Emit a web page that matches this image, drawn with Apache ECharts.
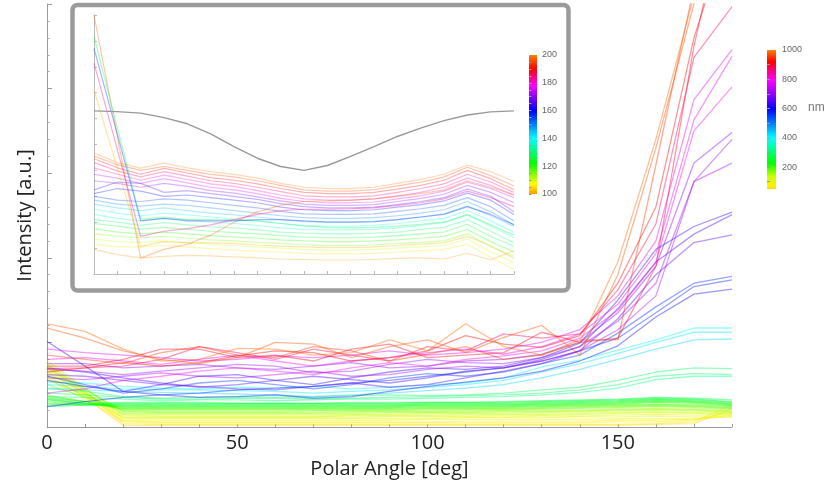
<!DOCTYPE html>
<html><head><meta charset="utf-8">
<script src="https://cdn.jsdelivr.net/npm/echarts@6/dist/echarts.min.js"></script>
<style>html,body{margin:0;padding:0;background:#fff}#c{width:824px;height:491px}</style>
</head><body><div id="c"></div>
<script>
// ---------- data ----------
const angles = [0,10,20,30,40,50,60,70,80,90,100,110,120,130,140,150,160,170,180];
const xTickLabels = [0,50,100,150];
const cbMainLabels = [200,400,600,800,1000];
const cbMainTicks = [100,200,300,400,500,600,700,800,900,1000];
const cbInsetLabels = [100,120,140,160,180,200];
const cbInsetTicks = [100,105,110,115,120,125,130,135,140,145,150,155,160,165,170,175,180,185,190,195,200];

// main chart: low (yellow-green) group, wavelength in nm
const lowWl = [50,60,70,80,90,100,110,120,130,140,150,160,170,180,190,200,210,220,230,240,250,260,270];
const lowLines = [
 [0.62,0.35,0.02,0.02,0.02,0.02,0.02,0.02,0.02,0.02,0.02,0.02,0.02,0.02,0.02,0.02,0.03,0.04,0.22],
 [0.70,0.40,0.04,0.03,0.03,0.03,0.03,0.03,0.03,0.03,0.03,0.03,0.03,0.03,0.03,0.03,0.04,0.06,0.26],
 [0.75,0.42,0.06,0.05,0.05,0.05,0.05,0.05,0.05,0.05,0.05,0.05,0.05,0.05,0.05,0.06,0.06,0.08,0.18],
 [0.58,0.32,0.07,0.06,0.06,0.06,0.06,0.06,0.06,0.06,0.06,0.07,0.07,0.07,0.07,0.08,0.08,0.09,0.14],
 [0.66,0.38,0.08,0.08,0.08,0.08,0.08,0.08,0.08,0.08,0.09,0.09,0.09,0.09,0.09,0.10,0.10,0.10,0.12],
 [0.72,0.42,0.10,0.10,0.10,0.10,0.10,0.10,0.10,0.10,0.10,0.11,0.11,0.11,0.12,0.12,0.13,0.12,0.12],
 [0.60,0.36,0.11,0.11,0.11,0.11,0.11,0.11,0.11,0.12,0.12,0.12,0.12,0.13,0.13,0.14,0.15,0.14,0.14],
 [0.68,0.40,0.12,0.12,0.12,0.12,0.12,0.12,0.13,0.13,0.13,0.13,0.14,0.14,0.15,0.16,0.17,0.16,0.15],
 [0.78,0.46,0.14,0.13,0.13,0.13,0.13,0.13,0.14,0.14,0.14,0.15,0.15,0.15,0.16,0.17,0.18,0.17,0.16],
 [0.64,0.40,0.15,0.15,0.15,0.15,0.15,0.15,0.15,0.15,0.16,0.16,0.16,0.17,0.18,0.19,0.20,0.19,0.17],
 [0.74,0.45,0.16,0.16,0.16,0.16,0.16,0.16,0.16,0.17,0.17,0.17,0.18,0.18,0.19,0.20,0.21,0.20,0.18],
 [0.56,0.38,0.18,0.17,0.17,0.17,0.17,0.17,0.18,0.18,0.18,0.18,0.19,0.19,0.20,0.21,0.22,0.21,0.19],
 [0.70,0.44,0.19,0.18,0.18,0.18,0.18,0.19,0.19,0.19,0.19,0.20,0.20,0.21,0.22,0.23,0.24,0.23,0.21],
 [0.50,0.35,0.20,0.20,0.20,0.20,0.20,0.20,0.20,0.20,0.21,0.21,0.21,0.22,0.23,0.24,0.25,0.24,0.22],
 [0.38,0.30,0.21,0.21,0.21,0.21,0.21,0.21,0.21,0.21,0.22,0.22,0.22,0.23,0.24,0.25,0.26,0.25,0.23],
 [0.33,0.28,0.22,0.22,0.22,0.22,0.22,0.22,0.22,0.22,0.23,0.23,0.23,0.24,0.25,0.26,0.27,0.26,0.24],
 [0.36,0.30,0.23,0.23,0.23,0.23,0.23,0.23,0.23,0.23,0.24,0.24,0.24,0.25,0.26,0.27,0.29,0.28,0.25],
 [0.30,0.27,0.24,0.24,0.24,0.24,0.24,0.24,0.24,0.24,0.25,0.25,0.25,0.26,0.27,0.28,0.30,0.29,0.26],
 [0.28,0.26,0.25,0.25,0.25,0.25,0.25,0.25,0.25,0.25,0.26,0.26,0.26,0.27,0.28,0.29,0.31,0.30,0.27],
 [0.32,0.28,0.26,0.26,0.26,0.26,0.26,0.26,0.26,0.26,0.27,0.27,0.27,0.28,0.29,0.30,0.32,0.31,0.28],
 [0.26,0.27,0.27,0.27,0.27,0.27,0.27,0.27,0.27,0.27,0.28,0.28,0.28,0.29,0.30,0.31,0.33,0.32,0.29],
 [0.34,0.30,0.28,0.28,0.28,0.28,0.28,0.28,0.28,0.28,0.29,0.29,0.29,0.30,0.31,0.32,0.34,0.33,0.30],
 [0.24,0.26,0.29,0.29,0.29,0.28,0.28,0.28,0.29,0.29,0.29,0.29,0.30,0.31,0.32,0.33,0.35,0.34,0.32]
];

// main chart: upper groups (three lines per colour)
const greenWl = [290,300,310];
const greenLines = [
 [0.45,0.42,0.36,0.34,0.35,0.36,0.35,0.36,0.37,0.38,0.37,0.38,0.40,0.44,0.47,0.55,0.65,0.70,0.69],
 [0.40,0.38,0.35,0.33,0.33,0.34,0.34,0.33,0.34,0.35,0.36,0.37,0.38,0.40,0.44,0.50,0.60,0.63,0.62],
 [0.36,0.35,0.33,0.31,0.32,0.32,0.31,0.32,0.33,0.33,0.34,0.35,0.36,0.38,0.41,0.46,0.56,0.60,0.60]
];
const cyanWl = [400,415,430];
const cyanLines = [
 [0.53,0.52,0.48,0.46,0.45,0.47,0.46,0.48,0.45,0.47,0.50,0.52,0.58,0.71,0.79,0.91,1.03,1.17,1.17],
 [0.50,0.48,0.45,0.44,0.44,0.43,0.42,0.40,0.42,0.44,0.47,0.50,0.55,0.65,0.75,0.87,1.00,1.12,1.12],
 [0.46,0.44,0.42,0.41,0.40,0.39,0.38,0.36,0.38,0.40,0.43,0.46,0.50,0.58,0.68,0.80,0.92,1.03,1.04]
];
const blueWl = [560,575,590];
const blueLines = [
 [0.60,0.50,0.40,0.45,0.52,0.55,0.50,0.45,0.50,0.58,0.63,0.60,0.65,0.75,0.85,1.11,1.42,1.70,1.78],
 [0.24,0.30,0.35,0.38,0.40,0.44,0.46,0.48,0.52,0.55,0.60,0.65,0.70,0.78,0.90,1.05,1.35,1.66,1.74],
 [0.55,0.48,0.42,0.38,0.35,0.36,0.38,0.34,0.36,0.42,0.48,0.53,0.58,0.66,0.78,0.96,1.30,1.57,1.63]
];
const bluePurpleWl = [630,645,660];
const bluePurpleLines = [
 [1.01,0.72,0.42,0.50,0.60,0.62,0.55,0.50,0.58,0.65,0.70,0.68,0.72,0.82,0.99,1.50,2.10,2.37,2.54],
 [0.70,0.65,0.58,0.52,0.47,0.50,0.55,0.60,0.56,0.52,0.58,0.66,0.70,0.80,0.95,1.40,1.95,2.28,2.51],
 [0.62,0.60,0.55,0.50,0.48,0.45,0.44,0.48,0.52,0.47,0.50,0.58,0.66,0.75,0.90,1.28,1.80,2.18,2.27]
];
const purpleWl = [690,705,720];
const purpleLines = [
 [0.75,0.75,0.70,0.72,0.74,0.70,0.68,0.72,0.76,0.70,0.72,0.78,0.80,0.86,1.00,1.35,1.90,3.12,3.48],
 [0.68,0.66,0.62,0.66,0.70,0.74,0.72,0.64,0.66,0.74,0.80,0.76,0.75,0.82,0.95,1.25,1.70,2.90,3.40],
 [0.58,0.56,0.60,0.64,0.60,0.58,0.62,0.66,0.60,0.62,0.68,0.72,0.70,0.78,0.90,1.15,1.55,2.90,3.12]
];
const magentaWl = [770,785,800];
const magentaLines = [
 [0.92,0.88,0.85,0.82,0.78,0.80,0.84,0.82,0.85,0.90,0.85,0.88,0.92,1.00,1.15,1.55,2.20,3.87,4.46],
 [0.80,0.82,0.78,0.74,0.80,0.85,0.78,0.72,0.78,0.82,0.88,0.92,0.86,0.95,1.10,1.45,2.05,3.63,4.38],
 [0.40,0.45,0.55,0.60,0.66,0.70,0.66,0.62,0.70,0.76,0.72,0.80,0.84,0.90,1.05,1.38,1.95,3.50,4.02]
];
const redWl = [880,900,920];
const redLines = [
 [0.69,0.70,0.72,0.80,0.95,0.88,0.80,0.92,0.85,0.78,0.95,0.90,1.10,1.05,1.10,1.62,2.40,4.37,4.97],
 [0.72,0.72,0.80,0.92,0.92,0.82,0.85,0.78,0.92,0.98,0.82,0.85,0.88,1.12,1.00,1.05,1.90,4.50,6.50],
 [0.65,0.70,0.76,0.72,0.76,0.84,0.90,0.88,0.78,0.82,0.90,1.08,0.98,0.94,1.08,1.70,2.60,4.60,6.00]
];
const orangeWl = [955,970,985];
const orangeLines = [
 [0.85,0.80,0.75,0.88,0.95,0.85,0.82,0.95,0.90,0.78,0.86,0.95,0.80,0.85,1.03,1.03,3.10,5.20,7.00],
 [1.17,1.05,0.90,0.80,0.75,0.82,1.00,0.98,0.82,0.95,1.03,0.88,1.06,1.20,0.85,1.80,3.30,5.00,6.80],
 [1.22,1.13,0.92,0.78,0.80,0.93,0.92,0.85,0.88,1.03,0.90,1.22,0.95,0.85,1.00,1.95,3.40,5.10,7.00]
];

// inset: stacked lines, wavelength 100..200
const insetWl = [100,105,110,115,120,125,130,135,140,145,150,155,160,165,170,175,180,185,190,195,200];
const insetLines = [
 [0.95,0.75,0.62,0.68,0.72,0.70,0.66,0.62,0.58,0.56,0.54,0.54,0.56,0.60,0.62,0.58,0.80,0.55,0.90],
 [1.15,1.05,1.05,1.10,1.05,0.98,0.92,0.88,0.85,0.80,0.78,0.78,0.80,0.85,0.90,0.95,1.15,0.65,0.17],
 [1.35,1.25,1.22,1.28,1.22,1.15,1.10,1.05,1.00,0.95,0.92,0.92,0.95,1.00,1.05,1.10,1.35,0.85,0.45],
 [1.55,1.45,1.40,1.45,1.38,1.32,1.28,1.22,1.18,1.12,1.10,1.10,1.12,1.18,1.22,1.28,1.55,1.05,0.68],
 [1.75,1.62,1.55,1.62,1.55,1.48,1.42,1.38,1.32,1.28,1.25,1.25,1.28,1.32,1.38,1.45,1.72,1.25,0.85],
 [1.95,1.85,1.72,1.80,1.72,1.65,1.60,1.55,1.48,1.42,1.40,1.40,1.42,1.48,1.55,1.62,1.92,1.45,1.07],
 [2.10,2.00,1.88,1.98,1.90,1.82,1.78,1.70,1.62,1.58,1.55,1.55,1.58,1.62,1.72,1.80,2.10,1.65,1.20],
 [2.30,2.15,2.05,2.15,2.08,2.00,1.95,1.88,1.78,1.72,1.70,1.70,1.72,1.78,1.88,1.98,2.28,1.85,1.40],
 [2.50,2.35,2.25,2.35,2.28,2.20,2.12,2.05,1.95,1.88,1.85,1.85,1.88,1.95,2.05,2.15,2.45,2.05,1.60],
 [2.70,2.55,2.45,2.55,2.45,2.35,2.28,2.20,2.10,2.02,2.00,2.00,2.02,2.10,2.20,2.32,2.62,2.25,1.84],
 [2.85,2.70,2.62,2.70,2.65,2.55,2.45,2.35,2.25,2.18,2.15,2.15,2.18,2.25,2.35,2.48,2.80,2.40,1.90],
 [3.00,2.85,2.80,2.90,2.85,2.75,2.65,2.55,2.42,2.32,2.30,2.30,2.32,2.42,2.52,2.65,2.95,2.60,2.05],
 [3.10,3.30,3.20,3.00,3.05,2.95,2.85,2.75,2.58,2.48,2.45,2.45,2.48,2.58,2.68,2.82,3.12,2.85,2.30],
 [3.25,3.55,3.50,3.15,3.22,3.10,3.00,2.88,2.72,2.60,2.55,2.55,2.58,2.68,2.80,2.95,3.28,3.00,2.40],
 [3.60,3.50,3.35,3.50,3.38,3.22,3.12,2.98,2.82,2.70,2.65,2.65,2.68,2.80,2.92,3.08,3.42,3.15,2.75],
 [3.85,3.70,3.50,3.68,3.52,3.35,3.25,3.10,2.92,2.80,2.75,2.75,2.78,2.90,3.02,3.20,3.55,3.30,2.95],
 [4.10,3.85,3.62,3.82,3.65,3.48,3.38,3.22,3.05,2.90,2.85,2.85,2.90,3.02,3.15,3.35,3.70,3.42,3.05],
 [4.30,3.98,3.75,3.95,3.78,3.60,3.50,3.35,3.18,3.02,2.98,2.98,3.02,3.15,3.30,3.48,3.85,3.55,3.15],
 [4.45,4.10,3.85,4.08,3.90,3.72,3.62,3.48,3.30,3.15,3.10,3.10,3.15,3.28,3.42,3.62,4.00,3.68,3.25],
 [4.55,4.22,4.00,4.15,4.00,3.85,3.75,3.60,3.42,3.25,3.20,3.20,3.26,3.40,3.55,3.75,4.12,3.80,3.40],
 [4.67,4.30,4.09,4.28,4.10,3.95,3.85,3.70,3.50,3.35,3.30,3.30,3.35,3.50,3.65,3.85,4.21,3.95,3.57]
];
// inset: lines with a high first point
const spikeWl = [198,128,157,183,102];
const spikeLines = [
 [10.0,5.30,0.62,0.95,1.15,1.50,2.00,2.40,2.65,2.80,2.82,2.85,2.90,3.00,3.10,3.25,3.60,3.35,3.05],
 [9.17,5.65,2.12,2.20,2.10,2.10,2.08,2.05,1.95,1.85,1.80,1.78,1.80,1.85,1.92,2.00,2.30,1.90,1.50],
 [8.71,5.40,2.05,2.15,2.05,2.05,2.05,2.10,2.10,2.05,2.00,2.00,2.02,2.10,2.20,2.30,2.60,2.30,1.90],
 [8.14,4.80,1.45,1.65,1.75,1.90,2.10,2.30,2.45,2.50,2.50,2.52,2.55,2.65,2.75,2.90,3.20,2.95,2.60],
 [7.10,4.10,1.07,1.25,1.20,1.20,1.18,1.12,1.08,1.05,1.02,1.02,1.05,1.10,1.15,1.20,1.45,1.10,0.60]
];
// inset: grey reference curve
const insetRef = [6.30,6.27,6.21,6.04,5.80,5.41,4.92,4.47,4.15,4.00,4.19,4.54,4.92,5.31,5.63,5.92,6.14,6.26,6.30];

// ---------- colour scales ----------
const mainStops = [[50,'#ffd800'],[70,'#ffee00'],[136,'#c8ff00'],[227,'#00ff00'],[398,'#00ffff'],[598,'#0000ff'],[682,'#8000ff'],[795,'#ff00ff'],[920,'#ff0000'],[1000,'#ff8000']];
const insetStops = [[100,'#ff9900'],[107,'#ffff00'],[122,'#00ff00'],[140,'#00ffff'],[160,'#0000ff'],[170,'#8800ff'],[178,'#ff00ff'],[190,'#ff0000'],[200,'#ff8000']];
function hex2rgb(h){return [parseInt(h.slice(1,3),16),parseInt(h.slice(3,5),16),parseInt(h.slice(5,7),16)];}
function colorAt(stops,v){
  if(v<=stops[0][0]) return stops[0][1];
  for(let i=1;i<stops.length;i++){
    if(v<=stops[i][0]){
      const t=(v-stops[i-1][0])/(stops[i][0]-stops[i-1][0]);
      const a=hex2rgb(stops[i-1][1]), b=hex2rgb(stops[i][1]);
      return 'rgb('+a.map((c,k)=>Math.round(c+(b[k]-c)*t)).join(',')+')';
    }
  }
  return stops[stops.length-1][1];
}
function gradient(stops,min,max){
  const cs=[];
  for(let i=stops.length-1;i>=0;i--){
    const off=Math.min(1,Math.max(0,(max-stops[i][0])/(max-min)));
    cs.push({offset:off,color:stops[i][1]});
  }
  return new echarts.graphic.LinearGradient(0,0,0,1,cs);
}

// ---------- series ----------
const series=[];
function addLine(vals,color,gi,opacity,width){
  series.push({type:'line',xAxisIndex:gi,yAxisIndex:gi,data:angles.map((a,i)=>[a,vals[i]]),
    symbol:'none',silent:true,clip:true,animation:false,
    lineStyle:{color:color,width:width,opacity:opacity}});
}
lowLines.forEach((l,i)=>addLine(l,colorAt(mainStops,lowWl[i]),0,0.45,1.3));
[[greenWl,greenLines],[cyanWl,cyanLines],[blueWl,blueLines],[bluePurpleWl,bluePurpleLines],
 [purpleWl,purpleLines],[magentaWl,magentaLines],[redWl,redLines],[orangeWl,orangeLines]]
 .forEach(([w,ls])=>ls.forEach((l,i)=>addLine(l,colorAt(mainStops,w[i]),0,0.42,1.3)));
insetLines.forEach((l,i)=>addLine(l,colorAt(insetStops,insetWl[i]),1,0.3,1.2));
spikeLines.forEach((l,i)=>addLine(l,colorAt(insetStops,spikeWl[i]),1,0.35,1.2));
addLine(insetRef,'#999999',1,1,1.4);

const fontMain='"Open Sans", sans-serif';
const fontSmall='"Liberation Sans", Arial, sans-serif';
const chart=echarts.init(document.getElementById('c'),null,{renderer:'canvas'});
chart.setOption({
  backgroundColor:'#ffffff',
  animation:false,
  grid:[
    {left:47,right:92,top:4,bottom:64},
    {left:94,top:15,width:420,height:259},
    {left:767,top:50,width:9,height:139,show:true,borderWidth:0,backgroundColor:gradient(mainStops,50,1000)},
    {left:529,top:55,width:8,height:139,show:true,borderWidth:0,backgroundColor:gradient(insetStops,100,200)}
  ],
  xAxis:[
    {gridIndex:0,type:'value',min:0,max:180,interval:10,
     axisLine:{lineStyle:{color:'#9a9a9a',width:1}},
     axisTick:{inside:true,length:3,lineStyle:{color:'#9a9a9a'}},
     axisLabel:{formatter:v=>xTickLabels.includes(v)?String(v):'',fontSize:20,color:'#222',fontFamily:fontMain,margin:6},
     splitLine:{show:false},
     name:'Polar Angle [deg]',nameLocation:'middle',nameGap:32,
     nameTextStyle:{fontSize:20,color:'#222',fontFamily:fontMain}},
    {gridIndex:1,type:'value',min:0,max:180,interval:10,
     axisLine:{lineStyle:{color:'#bbbbbb'}},axisTick:{inside:true,length:3,lineStyle:{color:'#bbbbbb'}},
     axisLabel:{show:false},splitLine:{show:false}},
    {gridIndex:2,type:'value',min:0,max:1,show:false},
    {gridIndex:3,type:'value',min:0,max:1,show:false}
  ],
  yAxis:[
    {gridIndex:0,type:'value',min:0,max:5,interval:1,
     axisLine:{show:true,lineStyle:{color:'#9a9a9a',width:1}},
     axisTick:{show:true,inside:true,length:5,lineStyle:{color:'#9a9a9a'}},
     minorTick:{show:true,splitNumber:5,length:2.5,lineStyle:{color:'#aaaaaa'}},
     axisLabel:{show:false},splitLine:{show:false},
     name:'Intensity [a.u.]',nameLocation:'middle',nameGap:12,
     nameTextStyle:{fontSize:20,color:'#222',fontFamily:fontMain}},
    {gridIndex:1,type:'value',min:0,max:10,interval:1,
     axisLine:{show:true,lineStyle:{color:'#bbbbbb'}},
     axisTick:{show:true,inside:true,length:3,lineStyle:{color:'#bbbbbb'}},
     axisLabel:{show:false},splitLine:{show:false}},
    {gridIndex:2,type:'value',position:'right',min:50,max:1000,
     axisLine:{show:false},
     axisTick:{show:true,customValues:cbMainTicks,length:3,lineStyle:{color:'#999'}},
     axisLabel:{customValues:cbMainLabels,formatter:v=>String(v),fontSize:9,color:'#666',fontFamily:fontSmall,margin:6},
     splitLine:{show:false}},
    {gridIndex:3,type:'value',position:'right',min:100,max:200,
     axisLine:{show:false},
     axisTick:{show:true,customValues:cbInsetTicks,length:2.5,lineStyle:{color:'#999'}},
     axisLabel:{customValues:cbInsetLabels,formatter:v=>String(v),fontSize:9,color:'#666',fontFamily:fontSmall,margin:5},
     splitLine:{show:false}}
  ],
  graphic:[
    {type:'rect',z:-10,shape:{x:72.5,y:5,width:496,height:285.5,r:5},
     style:{fill:'#ffffff',stroke:'#9b9b9b',lineWidth:4.5},silent:true},
    {type:'text',left:808,top:102,style:{text:'nm',fontSize:12,fill:'#777',fontFamily:fontSmall}}
  ],
  series:series
});
</script></body></html>
